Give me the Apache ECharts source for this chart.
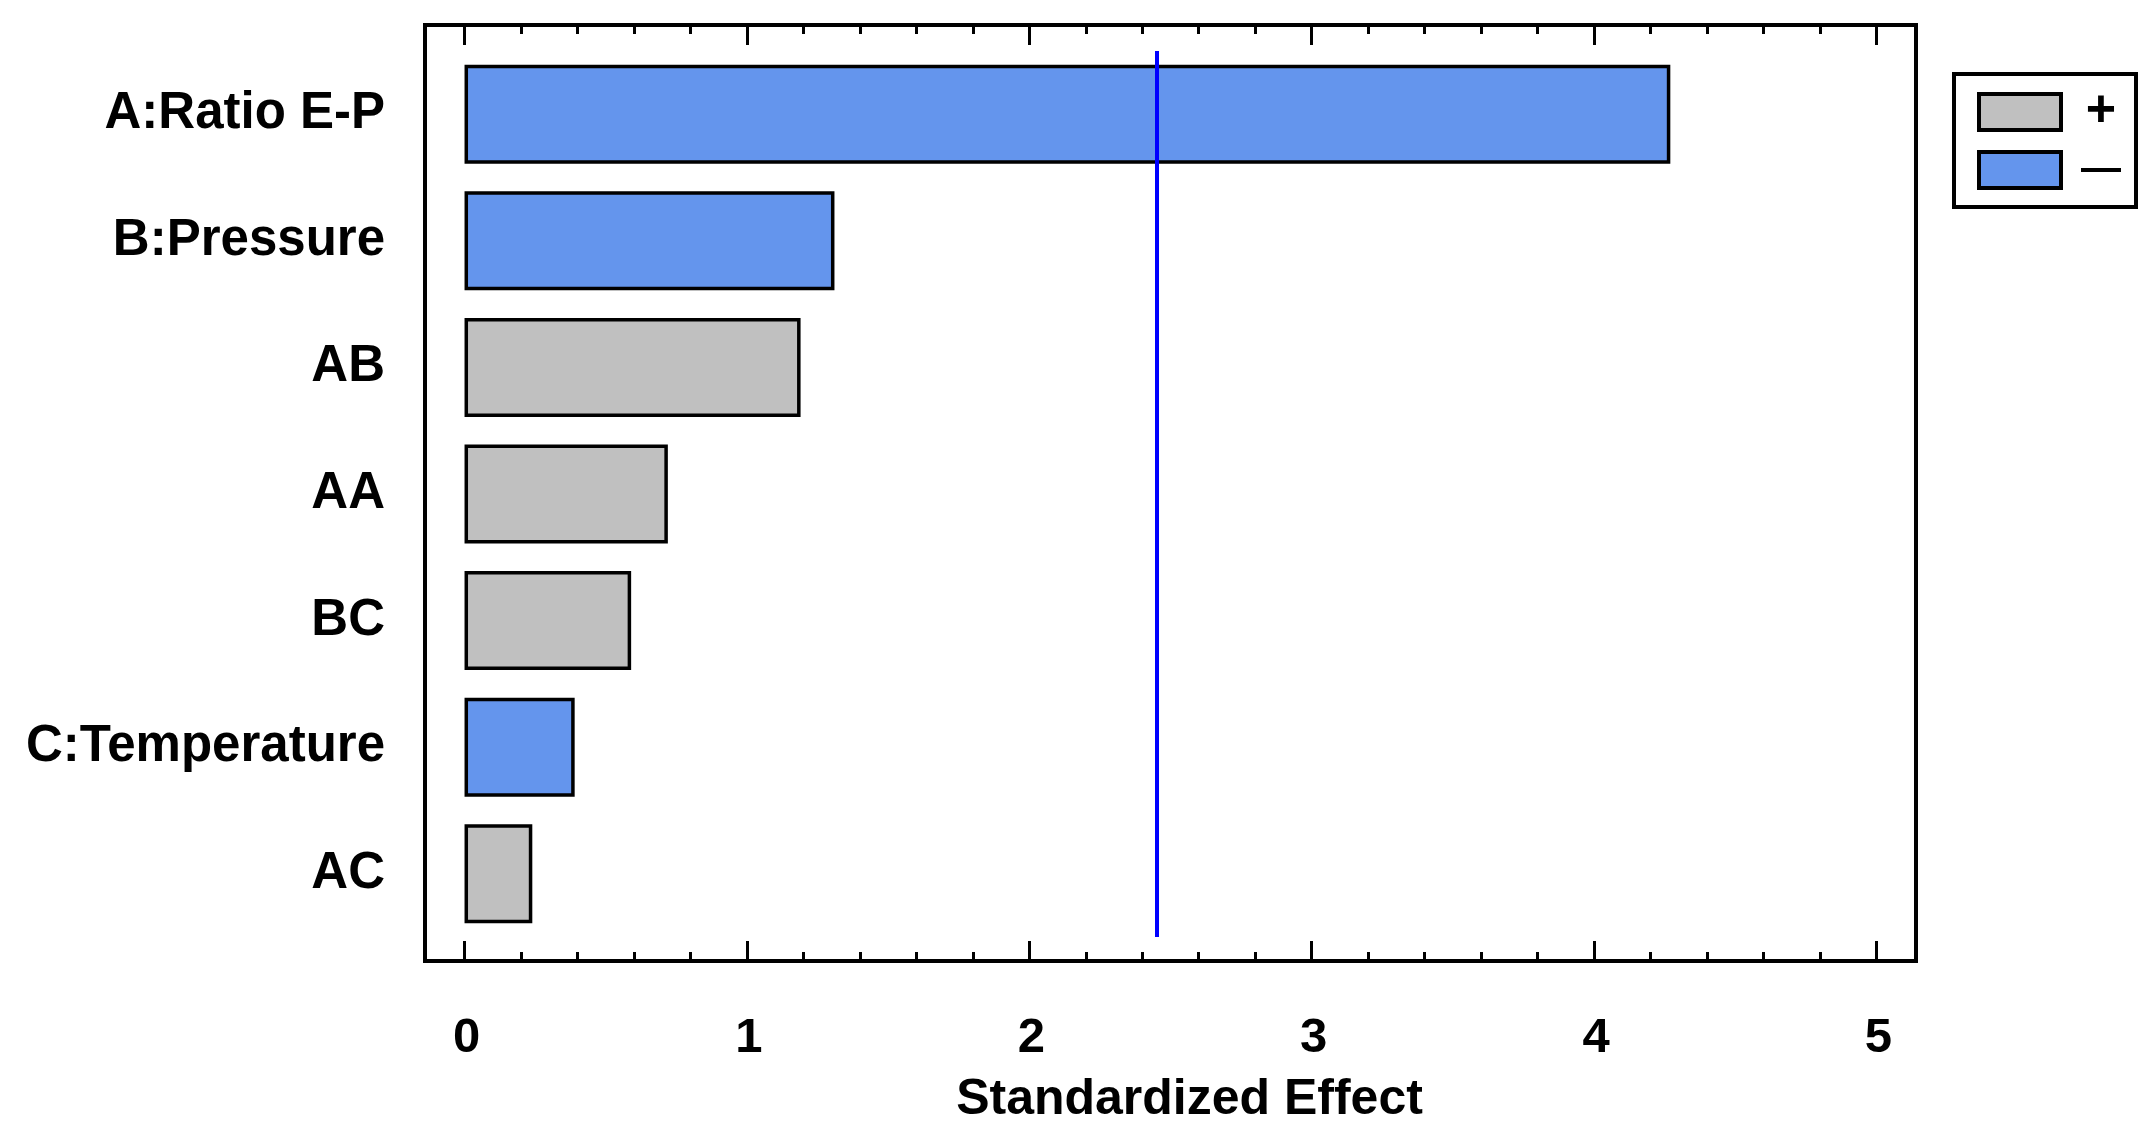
<!DOCTYPE html>
<html>
<head>
<meta charset="utf-8">
<script src="https://cdn.jsdelivr.net/npm/echarts@6/dist/echarts.min.js"></script>
<style>
html,body{margin:0;padding:0;background:#fff;}
#chart{width:2146px;height:1148px;}
</style>
</head>
<body>
<div id="chart"></div>
<script>
// ---- data ----
const categories = ['A:Ratio E-P', 'B:Pressure', 'AB', 'AA', 'BC', 'C:Temperature', 'AC'];
const effects = [4.27, 1.31, 1.19, 0.72, 0.59, 0.39, 0.24];
const signs = ['-', '-', '+', '+', '+', '-', '+'];
const majorTicks = [0, 1, 2, 3, 4, 5];
const minorTicks = [0.2, 0.4, 0.6, 0.8, 1.2, 1.4, 1.6, 1.8, 2.2, 2.4, 2.6, 2.8, 3.2, 3.4, 3.6, 3.8, 4.2, 4.4, 4.6, 4.8];
const criticalValue = 2.447;
const xMin = -0.14, xMax = 5.14;

const posData = effects.map((v, i) => signs[i] === '+' ? v : '-');
const negData = effects.map((v, i) => signs[i] === '-' ? v : '-');

const FONT = '"Liberation Sans", Arial, sans-serif';
const chart = echarts.init(document.getElementById('chart'));

function xa(opts) {
  return Object.assign({
    type: 'value', gridIndex: 0, min: xMin, max: xMax,
    axisLine: { show: false }, splitLine: { show: false },
    axisLabel: { show: false }
  }, opts);
}

chart.setOption({
  backgroundColor: '#fff',
  animation: false,
  grid: [
    { left: 425, right: 230, top: 25, bottom: 187, show: true, borderColor: '#000', borderWidth: 4, backgroundColor: 'transparent' },
    { left: 425, right: 230, top: 51, bottom: 211 }
  ],
  xAxis: [
    xa({
      position: 'bottom',
      axisTick: { show: true, inside: true, length: 20, customValues: majorTicks, lineStyle: { color: '#000', width: 3 } },
      axisLabel: { show: true, customValues: majorTicks, margin: 52, fontSize: 49, fontWeight: 'bold', color: '#000', fontFamily: FONT, lineHeight: 50, padding: [0, 0, 0, 4] },
      name: 'Standardized Effect', nameLocation: 'middle', nameGap: 114,
      nameTextStyle: { fontSize: 50, fontWeight: 'bold', color: '#000', fontFamily: FONT, padding: [0, 0, 0, 38], lineHeight: 50 }
    }),
    xa({ position: 'bottom', axisTick: { show: true, inside: true, length: 9, customValues: minorTicks, lineStyle: { color: '#000', width: 3 } } }),
    xa({ position: 'top', axisTick: { show: true, inside: true, length: 20, customValues: majorTicks, lineStyle: { color: '#000', width: 3 } } }),
    xa({ position: 'top', axisTick: { show: true, inside: true, length: 9, customValues: minorTicks, lineStyle: { color: '#000', width: 3 } } }),
    { type: 'value', gridIndex: 1, min: xMin, max: xMax, show: false }
  ],
  yAxis: [
    { type: 'value', gridIndex: 0, show: false },
    {
      type: 'category', gridIndex: 1, data: categories, inverse: true,
      axisLine: { show: false }, axisTick: { show: false }, splitLine: { show: false },
      axisLabel: { margin: 40, fontSize: 51, fontWeight: 'bold', color: '#000', fontFamily: FONT, padding: [6, 0, 0, 0] }
    }
  ],
  legend: {
    orient: 'vertical', left: 1954, top: 74,
    data: [{ name: '+', icon: 'rect' }, { name: '—', icon: 'rect' }],
    selectedMode: false,
    backgroundColor: '#fff', borderColor: '#000', borderWidth: 4,
    padding: [12, 0, 17, 23],
    itemWidth: 82, itemHeight: 36, itemGap: 12,
    itemStyle: { borderWidth: 4 },
    formatter: function (n) { return n === '+' ? '{p|+}' : '{m|—}'; },
    textStyle: {
      color: '#000', fontFamily: FONT, fontWeight: 'bold', lineHeight: 36, height: 36,
      rich: {
        p: { width: 70, height: 36, align: 'center', fontSize: 52, fontWeight: 'bold', fontFamily: FONT, color: '#000', lineHeight: 36 },
        m: { width: 70, height: 36, align: 'center', fontSize: 40, fontWeight: 'bold', fontFamily: FONT, color: '#000', lineHeight: 36 }
      }
    }
  },
  series: [
    {
      name: '+', type: 'bar', xAxisIndex: 4, yAxisIndex: 1, stack: 'effect',
      barWidth: 99, data: posData,
      itemStyle: { color: '#C0C0C0', borderColor: '#000', borderWidth: 3.5 }
    },
    {
      name: '—', type: 'bar', xAxisIndex: 4, yAxisIndex: 1, stack: 'effect',
      barWidth: 99, data: negData,
      itemStyle: { color: '#6495ED', borderColor: '#000', borderWidth: 3.5 },
      markLine: {
        silent: true, symbol: 'none', label: { show: false },
        lineStyle: { color: '#0000FF', width: 4, type: 'solid' },
        data: [{ xAxis: criticalValue }]
      }
    }
  ]
});
</script>
</body>
</html>
